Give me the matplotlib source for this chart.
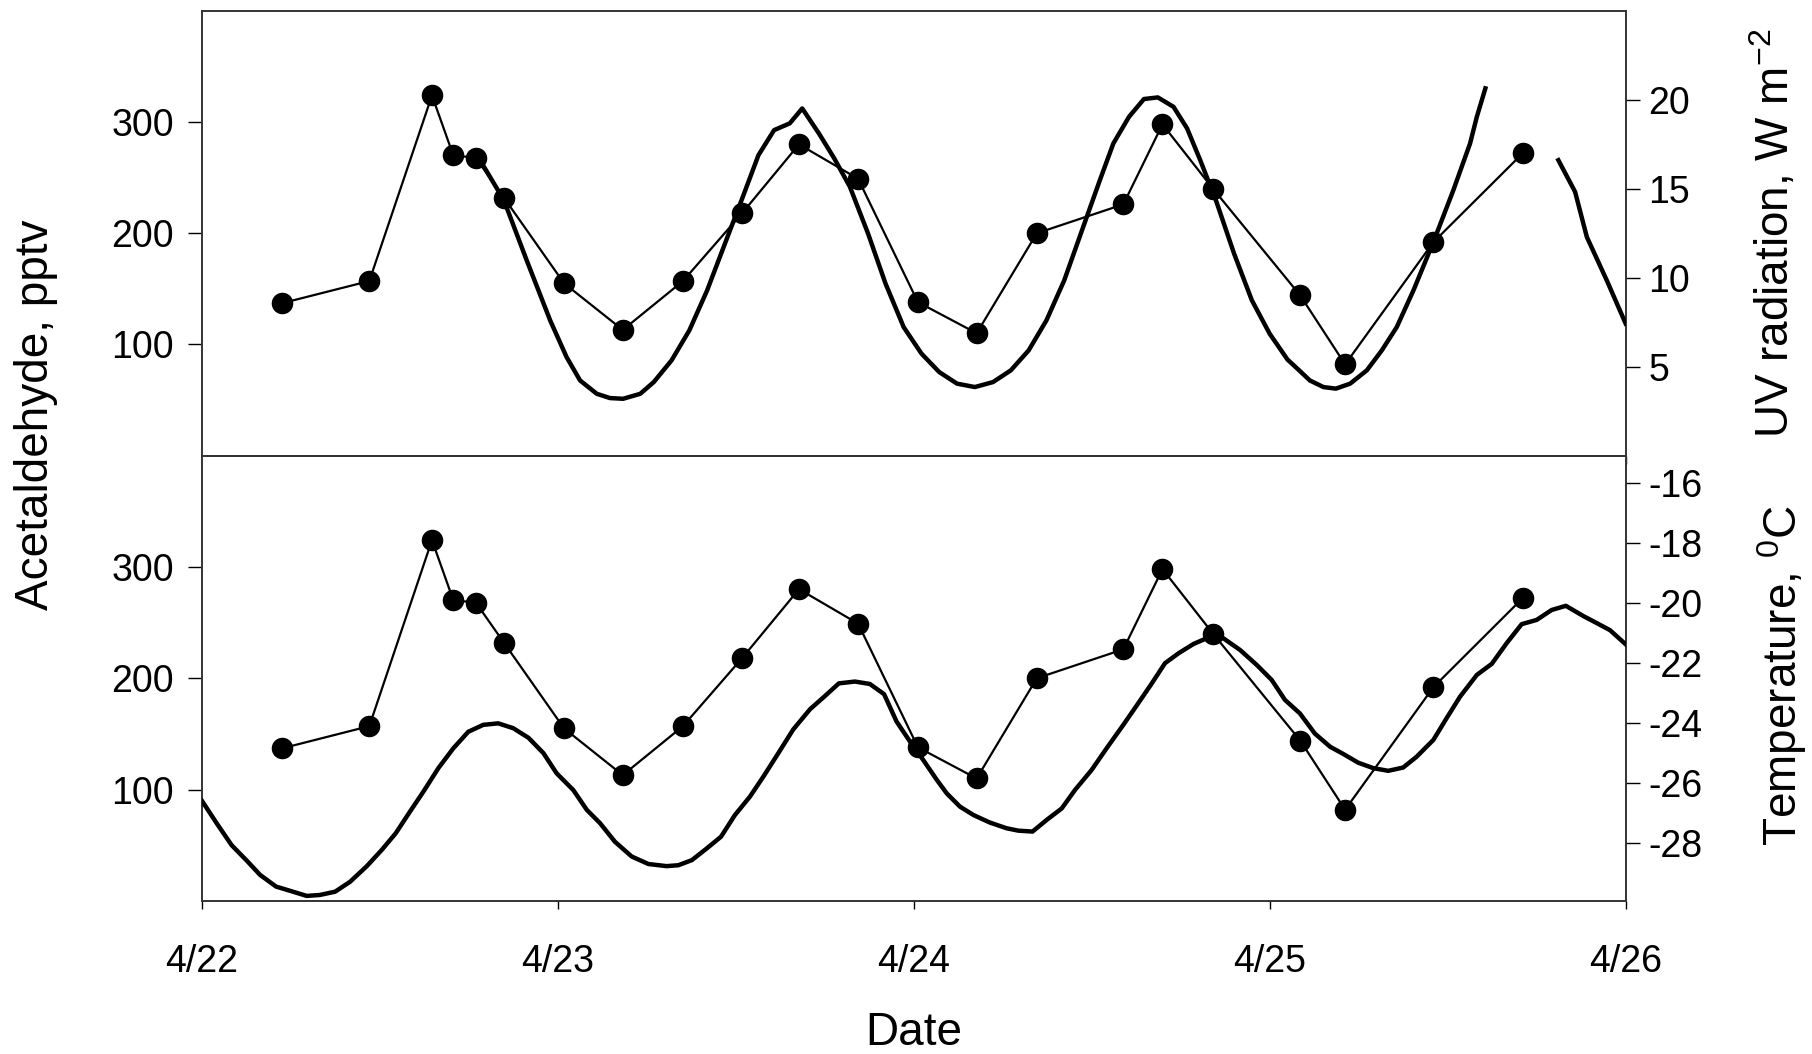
import numpy as np
import matplotlib
matplotlib.use("Agg")
import matplotlib.pyplot as plt

plt.rcParams['font.family'] = ['Liberation Sans', 'DejaVu Sans']
plt.rcParams['mathtext.fontset'] = 'custom'
plt.rcParams['mathtext.rm'] = 'Liberation Sans'
plt.rcParams['axes.unicode_minus'] = False

# ---- data (days since 4/22 00:00) ----
acet_days = [0.224, 0.470, 0.646, 0.706, 0.769, 0.848, 1.017, 1.182, 1.351, 1.517, 1.677,
             1.843, 2.011, 2.176, 2.345, 2.588, 2.698, 2.840, 3.085, 3.211, 3.459, 3.710]
acet_pptv = [137, 157, 324, 270, 268, 232, 155, 113, 157, 218, 280,
             249, 138, 110, 200, 226, 298, 240, 144, 82, 192, 272]

uv_days = [0.772, 0.781, 0.848, 0.912, 0.978, 1.024, 1.062, 1.109, 1.146, 1.183, 1.231, 1.269,
           1.319, 1.369, 1.419, 1.469, 1.519, 1.563, 1.607, 1.651, 1.686, 1.733, 1.776,
           1.820, 1.871, 1.920, 1.971, 2.021, 2.071, 2.121, 2.171, 2.222, 2.272, 2.322,
           2.372, 2.422, 2.472, 2.522, 2.560, 2.604, 2.646, 2.685, 2.729, 2.767, 2.804,
           2.848, 2.899, 2.949, 2.999, 3.049, 3.084, 3.112, 3.150, 3.185, 3.225, 3.272,
           3.314, 3.356, 3.403, 3.459, 3.515, 3.562, 3.581, 3.605, 3.700,
           3.810, 3.857, 3.890, 3.946, 3.999]
uv_wm2 = [16.9, 16.61, 14.36, 10.98, 7.60, 5.54, 4.22, 3.47, 3.23, 3.19, 3.47, 4.13,
          5.35, 7.04, 9.29, 11.92, 14.54, 16.89, 18.30, 18.68, 19.52, 18.11, 16.71,
          15.11, 12.48, 9.67, 7.22, 5.73, 4.69, 4.04, 3.85, 4.13, 4.79, 5.91,
          7.60, 9.85, 12.67, 15.48, 17.55, 19.05, 20.05, 20.14, 19.61, 18.40, 16.61,
          14.36, 11.36, 8.73, 6.85, 5.40, 4.75, 4.22, 3.85, 3.76, 4.04, 4.79,
          5.91, 7.22, 9.29, 12.01, 14.92, 17.55, 19.05, 20.65, np.nan,
          16.61, 14.83, 12.29, 9.85, 7.42]

temp_days = [0.000, 0.041, 0.083, 0.126, 0.163, 0.208, 0.247, 0.294, 0.331, 0.374, 0.416,
             0.463, 0.505, 0.544, 0.584, 0.622, 0.664, 0.706, 0.748, 0.790, 0.832, 0.874,
             0.917, 0.959, 0.996, 1.043, 1.081, 1.118, 1.160, 1.207, 1.254, 1.305, 1.338,
             1.376, 1.418, 1.458, 1.497, 1.539, 1.577, 1.619, 1.661, 1.708, 1.750, 1.789,
             1.834, 1.876, 1.916, 1.951, 1.989, 2.026, 2.064, 2.092, 2.129, 2.167, 2.213,
             2.260, 2.293, 2.333, 2.373, 2.415, 2.452, 2.499, 2.541, 2.588, 2.630, 2.668,
             2.705, 2.743, 2.785, 2.822, 2.869, 2.916, 2.963, 3.005, 3.042, 3.084, 3.126,
             3.169, 3.206, 3.248, 3.290, 3.332, 3.374, 3.412, 3.459, 3.496, 3.534, 3.581,
             3.623, 3.665, 3.707, 3.749, 3.791, 3.831, 3.880, 3.917, 3.955, 3.999]
temp_c = [-26.59, -27.33, -28.06, -28.58, -29.05, -29.44, -29.58, -29.75, -29.72, -29.61, -29.28,
          -28.76, -28.22, -27.67, -26.95, -26.28, -25.50, -24.84, -24.29, -24.06, -24.01, -24.17,
          -24.49, -25.00, -25.67, -26.23, -26.89, -27.33, -27.95, -28.44, -28.69, -28.76, -28.73,
          -28.56, -28.17, -27.78, -27.06, -26.45, -25.78, -25.00, -24.21, -23.54, -23.10, -22.68,
          -22.62, -22.70, -23.04, -23.95, -24.62, -25.23, -25.89, -26.34, -26.78, -27.06, -27.31,
          -27.50, -27.58, -27.61, -27.22, -26.84, -26.23, -25.56, -24.84, -24.06, -23.34, -22.68,
          -22.01, -21.68, -21.37, -21.18, -21.18, -21.57, -22.07, -22.57, -23.23, -23.68, -24.35,
          -24.79, -25.03, -25.32, -25.50, -25.59, -25.48, -25.12, -24.56, -23.84, -23.12, -22.40,
          -22.03, -21.34, -20.71, -20.57, -20.24, -20.10, -20.44, -20.67, -20.91, -21.38]

date_ticks = [0, 1, 2, 3, 4]
date_labels = ['4/22', '4/23', '4/24', '4/25', '4/26']
acet_ticks = [100, 200, 300]
uv_ticks = [5, 10, 15, 20]
temp_ticks = [-28, -26, -24, -22, -20, -18, -16]

FS = 27      # tick labels
LFS = 33     # axis labels
W, H = 1812, 1054
fig = plt.figure(figsize=(W / 100, H / 100), dpi=100)

x0, x1 = 202 / W, 1626 / W
ytop, ymid, ybot = 1 - 11 / H, 1 - 455.5 / H, 1 - 901 / H

ax1 = fig.add_axes([x0, ymid, x1 - x0, ytop - ymid])
ax2 = fig.add_axes([x0, ybot, x1 - x0, ymid - ybot])

for ax in (ax1, ax2):
    ax.set_xlim(0, 4)
    ax.set_ylim(0, 400)
    ax.set_yticks(acet_ticks)
    ax.tick_params(axis='y', labelsize=FS, direction='out', length=10, width=1, pad=10)
    for s in ax.spines.values():
        s.set_linewidth(1.2)
        s.set_color('#333333')
    ax.plot(acet_days, acet_pptv, color='black', lw=1.6, marker='o', ms=14.5, zorder=5)

# top panel x ticks
ax1.set_xticks(date_ticks)
ax1.set_xticks(np.arange(0, 4.01, 0.25), minor=True)
ax1.tick_params(axis='x', which='major', direction='out', length=6, width=1, labelbottom=False)
ax1.tick_params(axis='x', which='minor', direction='out', length=2.5, width=1)

# bottom panel x ticks
ax2.set_xticks(date_ticks)
ax2.set_xticklabels(date_labels)
ax2.tick_params(axis='x', which='major', direction='out', length=6, width=1, labelsize=FS, pad=25)
ax2.set_xlabel('Date', fontsize=LFS, labelpad=22)

fig.text(36 / W, 1 - 415 / H, 'Acetaldehyde, pptv', rotation=90, fontsize=LFS,
         ha='center', va='center')

# UV on right of top
ax1r = ax1.twinx()
ax1r.set_ylim(0, 25)
ax1r.set_yticks(uv_ticks)
ax1r.plot(uv_days, uv_wm2, color='black', lw=3.2, zorder=3)
ax1r.tick_params(axis='y', labelsize=FS, direction='out', length=10, width=1, pad=6)
ax1r.set_xlim(0, 4)
fig.text(1774 / W, 1 - 233 / H, 'UV radiation, W m$^{\\mathregular{-2}}$', rotation=90,
         fontsize=LFS, ha='center', va='center')

# Temperature on right of bottom
ax2r = ax2.twinx()
ax2r.set_ylim(-29.92, -15.10)
ax2r.set_yticks(temp_ticks)
ax2r.plot(temp_days, temp_c, color='black', lw=3.2, zorder=3)
ax2r.tick_params(axis='y', labelsize=FS, direction='out', length=10, width=1, pad=6)
ax2r.set_xlim(0, 4)
fig.text(1782 / W, 1 - 675 / H, 'Temperature, $^{\\mathregular{0}}$C', rotation=90,
         fontsize=LFS, ha='center', va='center')

for ax in (ax1r, ax2r):
    for s in ax.spines.values():
        s.set_linewidth(1.2)
        s.set_color('#333333')

fig.savefig('out.png', dpi=100)
